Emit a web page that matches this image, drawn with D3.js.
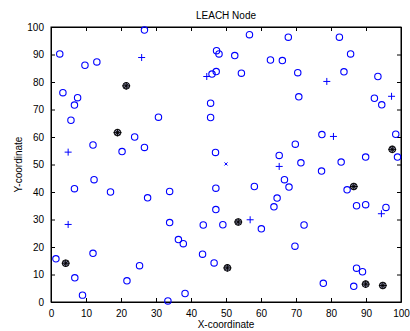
<!DOCTYPE html>
<html>
<head>
<meta charset="utf-8">
<script src="https://cdn.jsdelivr.net/npm/d3@7"></script>
<style>
  body { margin: 0; background: #fff; }
  text { font-family: "Liberation Sans", Arial, Helvetica, sans-serif; fill: #000; }
</style>
</head>
<body>
<div id="chart"></div>
<script>
// normal nodes (blue circles)
const normalX = [2.5, 3.4, 7.6, 6.7, 5.7, 9.7, 13.1, 26.7, 23.9, 26.7, 20.3, 12.0, 30.7, 56.7, 67.8, 82.4,
  47.3, 48.0, 52.5, 62.7, 66.1, 85.6, 47.2, 46.0, 54.4, 70.5, 83.7, 93.4, 70.8, 92.4, 94.5, 45.6,
  45.6, 77.4, 98.5, 69.8, 99.0, 89.9, 82.9, 71.4, 65.2, 47.0, 77.3, 1.4, 6.8, 9.0, 12.0, 6.7,
  12.3, 17.0, 27.6, 33.9, 33.9, 36.4, 37.8, 43.5, 43.3, 25.3, 21.7, 33.4, 38.3, 47.1, 58.1, 47.1,
  49.1, 60.1, 72.3, 69.7, 46.6, 64.6, 63.7, 66.7, 68.0, 84.6, 87.3, 89.9, 95.7, 77.8, 87.3, 89.0, 86.5];
const normalY = [90.2, 76.1, 74.3, 71.6, 66.1, 86.1, 87.3, 98.9, 60.0, 56.2, 54.7, 57.1, 67.2, 97.2, 96.3, 96.3,
  91.4, 90.2, 89.6, 88.0, 87.8, 90.2, 83.8, 82.9, 83.2, 83.4, 83.7, 82.0, 74.6, 74.1, 71.7, 72.3,
  67.1, 60.9, 61.0, 57.4, 52.7, 52.7, 50.9, 50.6, 53.3, 54.4, 47.6, 15.7, 8.8, 2.5, 17.7, 41.2,
  44.5, 40.0, 37.9, 40.2, 28.9, 22.7, 21.2, 28.0, 17.4, 13.2, 7.7, 0.4, 3.1, 41.4, 42.0, 33.6,
  28.1, 26.6, 28.0, 20.3, 14.2, 37.8, 34.6, 44.5, 41.8, 40.8, 35.0, 35.4, 34.4, 6.8, 12.3, 11.0, 5.7];

// advanced nodes (blue plus)
const advX = [25.9, 4.9, 44.5, 78.8, 97.3, 80.7, 65.2, 4.9, 56.9, 94.4];
const advY = [88.9, 54.5, 82.0, 80.2, 74.8, 60.2, 49.3, 28.2, 29.9, 32.1];

// cluster heads (black)
const chX = [21.5, 19.0, 97.5, 4.2, 53.5, 50.4, 86.5, 89.9, 94.8];
const chY = [78.6, 61.6, 55.5, 14.1, 29.1, 12.4, 42.0, 6.5, 6.0];

// sink
const sinkX = [50.0];
const sinkY = [50.2];

const xTicks = [0, 10, 20, 30, 40, 50, 60, 70, 80, 90, 100];
const yTicks = [0, 10, 20, 30, 40, 50, 60, 70, 80, 90, 100];

const width = 410, height = 331;
const margin = { top: 27, right: 9, bottom: 29, left: 51 };
const iw = width - margin.left - margin.right;
const ih = height - margin.top - margin.bottom;

const svg = d3.select('#chart').append('svg')
  .attr('width', width)
  .attr('height', height);

const g = svg.append('g').attr('transform', `translate(${margin.left},${margin.top})`);

const x = d3.scaleLinear().domain([0, 100]).range([0, iw]);
const y = d3.scaleLinear().domain([0, 100]).range([ih, 0]);

// axes, ticks pointing inward like matlab
g.append('g').attr('transform', `translate(0,${ih})`)
  .call(d3.axisBottom(x).tickValues(xTicks).tickSizeInner(-4).tickSizeOuter(0).tickPadding(8))
  .call(a => a.selectAll('text').attr('font-size', 10));
g.append('g')
  .call(d3.axisLeft(y).tickValues(yTicks).tickSizeInner(-4).tickSizeOuter(0).tickPadding(7))
  .call(a => a.selectAll('text').attr('font-size', 10));
g.append('g')
  .call(d3.axisTop(x).tickValues(xTicks).tickSizeInner(-4).tickSizeOuter(0).tickFormat(''));
g.append('g').attr('transform', `translate(${iw},0)`)
  .call(d3.axisRight(y).tickValues(yTicks).tickSizeInner(-4).tickSizeOuter(0).tickFormat(''));

g.selectAll('.domain').attr('stroke', '#000');
g.selectAll('.tick line').attr('stroke', '#000');
g.selectAll('text').attr('font-family', null);

g.append('rect')
  .attr('width', iw).attr('height', ih)
  .attr('fill', 'none').attr('stroke', '#000').attr('stroke-width', 1);

const blue = '#0000ff';

// normal nodes
g.selectAll('circle.node')
  .data(d3.range(normalX.length))
  .enter().append('circle')
  .attr('class', 'node')
  .attr('cx', i => x(normalX[i]))
  .attr('cy', i => y(normalY[i]))
  .attr('r', 3.2)
  .attr('fill', 'none')
  .attr('stroke', blue)
  .attr('stroke-width', 1.1);

// advanced nodes
g.selectAll('path.adv')
  .data(d3.range(advX.length))
  .enter().append('path')
  .attr('class', 'adv')
  .attr('transform', i => `translate(${x(advX[i])},${y(advY[i])})`)
  .attr('d', 'M-3.5,0H3.5M0,-3.5V3.5')
  .attr('stroke', blue)
  .attr('stroke-width', 1)
  .attr('fill', 'none');

// sink
g.selectAll('path.sink')
  .data(d3.range(sinkX.length))
  .enter().append('path')
  .attr('class', 'sink')
  .attr('transform', i => `translate(${x(sinkX[i])},${y(sinkY[i])})`)
  .attr('d', 'M-1.5,-1.5L1.5,1.5M-1.5,1.5L1.5,-1.5')
  .attr('stroke', blue)
  .attr('stroke-width', 1);

// cluster heads
const ch = g.selectAll('g.ch')
  .data(d3.range(chX.length))
  .enter().append('g')
  .attr('class', 'ch')
  .attr('transform', i => `translate(${x(chX[i])},${y(chY[i])})`);
ch.append('circle')
  .attr('r', 3.3)
  .attr('fill', '#8a8aa8')
  .attr('stroke', '#111')
  .attr('stroke-width', 1.1);
ch.append('path')
  .attr('d', 'M-4,0H4M0,-3.6V3.6M-2.5,-2.5L2.5,2.5M-2.5,2.5L2.5,-2.5')
  .attr('stroke', '#000')
  .attr('stroke-width', 0.9);

// labels
svg.append('text')
  .attr('x', margin.left + iw / 2).attr('y', 19)
  .attr('text-anchor', 'middle').attr('font-size', 10)
  .text('LEACH Node');
svg.append('text')
  .attr('x', margin.left + iw / 2).attr('y', 328)
  .attr('text-anchor', 'middle').attr('font-size', 10)
  .text('X-coordinate');
svg.append('text')
  .attr('transform', `translate(22,${margin.top + ih / 2}) rotate(-90)`)
  .attr('text-anchor', 'middle').attr('font-size', 10)
  .text('Y-coordinate');
</script>
</body>
</html>
